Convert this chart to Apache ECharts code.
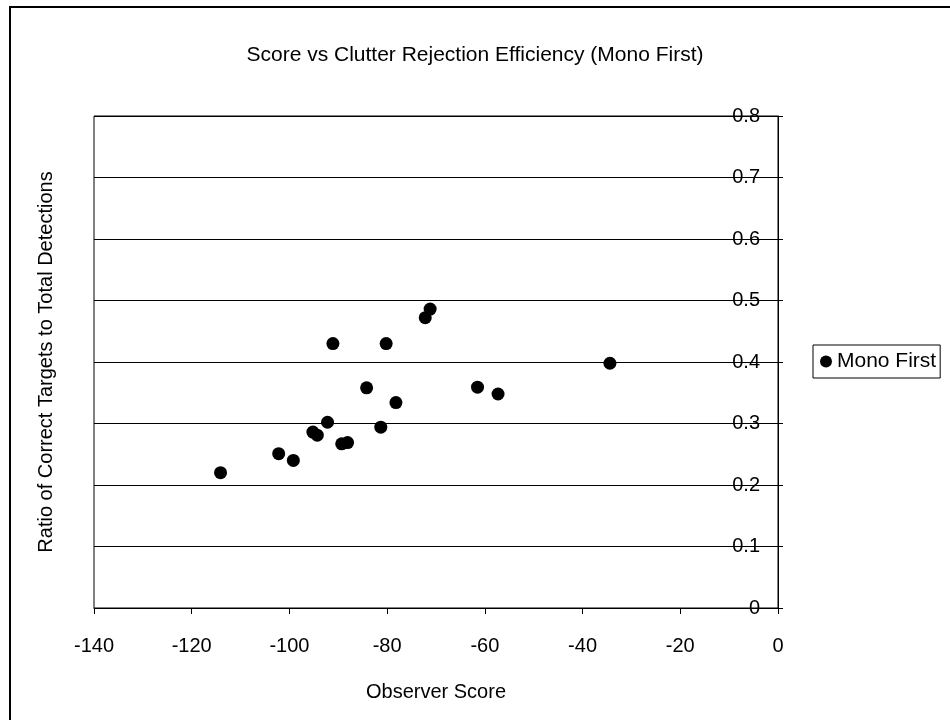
<!DOCTYPE html>
<html>
<head>
<meta charset="utf-8">
<script src="https://cdn.jsdelivr.net/npm/echarts@6/dist/echarts.min.js"></script>
<style>
html,body{margin:0;padding:0;background:#fff;}
#chart{width:950px;height:720px;}
</style>
</head>
<body>
<div id="chart"></div>
<script>
const titleText = 'Score vs Clutter Rejection Efficiency (Mono First)';
const seriesName = 'Mono First';
const xAxisName = 'Observer Score';
const yAxisName = 'Ratio of Correct Targets to Total Detections';
const scores = [-114.1, -102.2, -99.2, -95.2, -94.3, -92.2, -91.1, -89.3, -88.1, -84.2, -81.3, -80.2, -78.2, -72.2, -71.2, -61.5, -57.3, -34.4];
const ratios = [0.220, 0.251, 0.240, 0.286, 0.281, 0.302, 0.430, 0.267, 0.269, 0.358, 0.294, 0.430, 0.334, 0.472, 0.486, 0.359, 0.348, 0.398];
const xMin = -140, xMax = 0, xStep = 20;
const yMin = 0, yMax = 0.8, yStep = 0.1;

const FONT = 'Liberation Sans, Arial, sans-serif';
const chart = echarts.init(document.getElementById('chart'), null, {renderer: 'canvas'});
const points = scores.map((s, i) => [s, ratios[i]]);

chart.setOption({
  backgroundColor: '#ffffff',
  animation: false,
  textStyle: {fontFamily: FONT, color: '#000'},
  title: {
    text: titleText,
    left: 'center',
    top: 40,
    textStyle: {fontFamily: FONT, fontSize: 21, fontWeight: 'normal', color: '#000'}
  },
  legend: {
    data: [seriesName],
    left: 813,
    top: 345,
    orient: 'vertical',
    backgroundColor: '#fff',
    borderColor: '#000',
    borderWidth: 1,
    padding: [6, 4, 6, 7],
    itemWidth: 12,
    itemHeight: 12,
    icon: 'circle',
    textStyle: {fontFamily: FONT, fontSize: 21, color: '#000'}
  },
  grid: {
    left: 94, right: 172, top: 116, bottom: 112,
    show: true, borderColor: '#000', borderWidth: 1, backgroundColor: 'transparent'
  },
  xAxis: {
    type: 'value',
    min: xMin, max: xMax, interval: xStep,
    name: xAxisName,
    nameLocation: 'middle',
    nameGap: 74,
    nameTextStyle: {fontFamily: FONT, fontSize: 20, color: '#000'},
    axisLine: {show: true, onZero: false, lineStyle: {color: '#000', width: 1}},
    axisTick: {show: true, inside: false, length: 6, lineStyle: {color: '#000'}},
    axisLabel: {margin: 28, fontFamily: FONT, fontSize: 20, color: '#000'},
    splitLine: {show: false}
  },
  yAxis: [{
    type: 'value',
    position: 'right',
    min: yMin, max: yMax, interval: yStep,
    axisLine: {show: true, onZero: false, lineStyle: {color: '#000', width: 1}},
    axisTick: {show: true, inside: false, length: 5, lineStyle: {color: '#000'}},
    axisLabel: {inside: true, margin: 18, fontFamily: FONT, fontSize: 20, color: '#000',
      formatter: v => String(Math.round(v * 10) / 10)},
    splitLine: {show: true, lineStyle: {color: '#000', width: 1}}
  }, {
    type: 'value',
    position: 'left',
    min: yMin, max: yMax, interval: yStep,
    name: yAxisName,
    nameLocation: 'middle',
    nameRotate: 90,
    nameGap: 38,
    nameTextStyle: {fontFamily: FONT, fontSize: 20, color: '#000'},
    axisLine: {show: false},
    axisTick: {show: false},
    axisLabel: {show: false},
    splitLine: {show: false}
  }],
  series: [{
    name: seriesName,
    type: 'scatter',
    yAxisIndex: 0,
    data: points,
    symbol: 'circle',
    symbolSize: 13,
    itemStyle: {color: '#000', opacity: 1}
  }],
  graphic: [{
    type: 'rect',
    shape: {x: 10, y: 7, width: 950, height: 730},
    style: {fill: 'none', stroke: '#000', lineWidth: 2},
    silent: true,
    z: 100
  }]
});
</script>
</body>
</html>
